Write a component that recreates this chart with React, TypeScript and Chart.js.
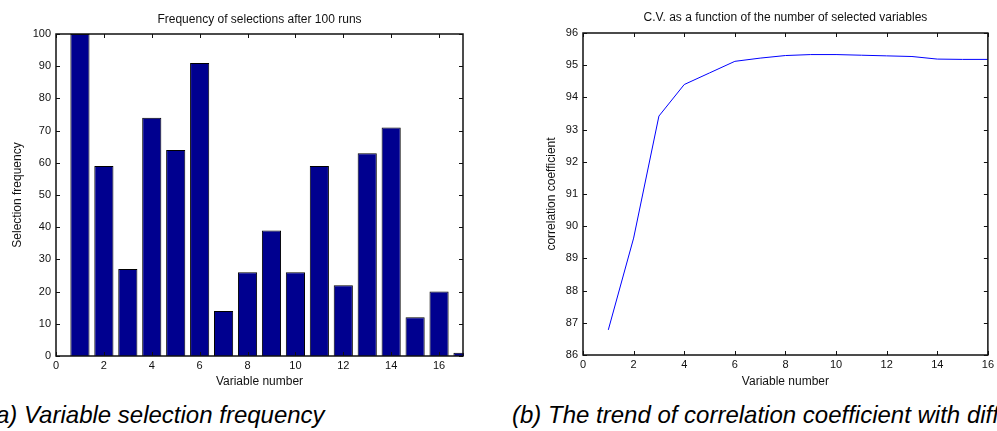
import React, { useEffect, useRef } from "react";
import { Chart, registerables } from "chart.js";

Chart.register(...registerables);

// ---- data ----
const variableNumbers = [1, 2, 3, 4, 5, 6, 7, 8, 9, 10, 11, 12, 13, 14, 15, 16, 17];
const selectionFrequency = [100, 59, 27, 74, 64, 91, 14, 26, 39, 26, 59, 22, 63, 71, 12, 20, 1];

const cvVariables = [1, 2, 3, 4, 5, 6, 7, 8, 9, 10, 11, 12, 13, 14, 15, 16];
const correlationCoef = [86.78, 89.63, 93.42, 94.4, 94.76, 95.12, 95.22, 95.3, 95.33, 95.33, 95.31, 95.29, 95.27, 95.19, 95.18, 95.18];

const titleA = "Frequency of selections after 100 runs";
const titleB = "C.V. as a function of the number of selected variables";
const xLabel = "Variable number";
const yLabelA = "Selection frequency";
const yLabelB = "correlation coefficient";
const captionA = "(a) Variable selection frequency";
const captionB = "(b) The trend of correlation coefficient with different number of variables";

const FONT = "'Liberation Sans', Arial, Helvetica, sans-serif";

const matlabBox = {
  id: "matlabBox",
  afterDatasetsDraw(chart: any) {
    const { ctx, chartArea } = chart;
    const { left, right, top, bottom } = chartArea;
    const xs = chart.scales.x;
    const ys = chart.scales.y;
    const tl = 4;
    ctx.save();
    ctx.strokeStyle = "#111";
    ctx.lineWidth = 1;
    ctx.beginPath();
    xs.ticks.forEach((t: any) => {
      const p = Math.round(xs.getPixelForValue(t.value)) + 0.5;
      ctx.moveTo(p, bottom);
      ctx.lineTo(p, bottom - tl);
      ctx.moveTo(p, top);
      ctx.lineTo(p, top + tl);
    });
    ys.ticks.forEach((t: any) => {
      const p = Math.round(ys.getPixelForValue(t.value)) + 0.5;
      ctx.moveTo(left, p);
      ctx.lineTo(left + tl, p);
      ctx.moveTo(right, p);
      ctx.lineTo(right - tl, p);
    });
    ctx.stroke();
    ctx.lineWidth = 1.5;
    ctx.strokeStyle = "#111";
    ctx.strokeRect(left, top, right - left, bottom - top);
    ctx.restore();
  },
};

function makeScales(opts: {
  xMax: number;
  yMin: number;
  yMax: number;
  yStep: number;
  yWidth: number;
  xHeight: number;
  yTitlePad: number;
  yLabel: string;
}) {
  return {
    x: {
      type: "linear" as const,
      min: 0,
      max: opts.xMax,
      offset: false,
      grid: { display: false, drawTicks: false, offset: false },
      border: { display: false },
      ticks: {
        stepSize: 2,
        includeBounds: false,
        font: { family: FONT, size: 11 },
        color: "#111",
        padding: 3,
        maxRotation: 0,
        autoSkip: false,
      },
      title: {
        display: true,
        text: xLabel,
        font: { family: FONT, size: 12 },
        color: "#111",
        padding: { top: 0, bottom: 11 },
      },
      afterFit: (s: any) => {
        s.height = opts.xHeight;
      },
    },
    y: {
      min: opts.yMin,
      max: opts.yMax,
      grid: { display: false, drawTicks: false },
      border: { display: false },
      ticks: {
        stepSize: opts.yStep,
        font: { family: FONT, size: 11 },
        color: "#111",
        padding: 5,
      },
      title: {
        display: true,
        text: opts.yLabel,
        font: { family: FONT, size: 12 },
        color: "#111",
        padding: { top: opts.yTitlePad, bottom: 0 },
      },
      afterFit: (s: any) => {
        s.width = opts.yWidth;
      },
    },
  };
}

function BarChart() {
  const ref = useRef<HTMLCanvasElement>(null);
  useEffect(() => {
    const chart = new Chart(ref.current!, {
      type: "bar",
      data: {
        datasets: [
          {
            data: variableNumbers.map((v, i) => ({ x: v, y: selectionFrequency[i] })),
            backgroundColor: "#00008F",
            borderColor: "#000",
            borderWidth: 1,
            categoryPercentage: 1,
            barPercentage: 0.8,
            clip: { left: 0, right: 1, top: 1, bottom: 0 },
          } as any,
        ],
      },
      options: {
        responsive: false,
        animation: false,
        layout: { padding: { left: 0, right: 17, top: 0, bottom: 0 } },
        plugins: {
          legend: { display: false },
          tooltip: { enabled: false },
          title: {
            display: true,
            text: titleA,
            fullSize: false,
            font: { family: FONT, size: 12, weight: "normal" },
            color: "#111",
            padding: { top: 12.5, bottom: 7.1 },
          },
        },
        scales: makeScales({
          xMax: 17,
          yMin: 0,
          yMax: 100,
          yStep: 10,
          yWidth: 56,
          xHeight: 44,
          yTitlePad: 10,
          yLabel: yLabelA,
        }) as any,
      },
      plugins: [matlabBox],
    });
    return () => chart.destroy();
  }, []);
  return (
    <canvas
      ref={ref}
      width={480}
      height={400}
      style={{ position: "absolute", left: 0, top: 0, width: 480, height: 400 }}
    />
  );
}

function LineChart() {
  const ref = useRef<HTMLCanvasElement>(null);
  useEffect(() => {
    const chart = new Chart(ref.current!, {
      type: "line",
      data: {
        datasets: [
          {
            data: cvVariables.map((v, i) => ({ x: v, y: correlationCoef[i] })),
            borderColor: "#0000FF",
            borderWidth: 1,
            pointRadius: 0,
            tension: 0,
            fill: false,
          },
        ],
      },
      options: {
        responsive: false,
        animation: false,
        layout: { padding: { left: 0, right: 4, top: 0, bottom: 0 } },
        plugins: {
          legend: { display: false },
          tooltip: { enabled: false },
          title: {
            display: true,
            text: titleB,
            fullSize: false,
            font: { family: FONT, size: 12, weight: "normal" },
            color: "#111",
            padding: { top: 10.3, bottom: 8.3 },
          },
        },
        scales: makeScales({
          xMax: 16,
          yMin: 86,
          yMax: 96,
          yStep: 1,
          yWidth: 86,
          xHeight: 45,
          yTitlePad: 47,
          yLabel: yLabelB,
        }) as any,
      },
      plugins: [matlabBox],
    });
    return () => chart.destroy();
  }, []);
  return (
    <canvas
      ref={ref}
      width={500}
      height={400}
      style={{ position: "absolute", left: 497, top: 0, width: 500, height: 400 }}
    />
  );
}

const captionStyle: React.CSSProperties = {
  position: "absolute",
  top: 403,
  fontFamily: FONT,
  fontStyle: "italic",
  fontSize: 24,
  lineHeight: "24px",
  color: "#000",
  whiteSpace: "nowrap",
};

export default function App() {
  return (
    <div
      style={{
        position: "absolute",
        left: 0,
        top: 0,
        width: 997,
        height: 431,
        overflow: "hidden",
        background: "#fff",
      }}
    >
      <BarChart />
      <LineChart />
      <div style={{ ...captionStyle, left: -12 }}>{captionA}</div>
      <div style={{ ...captionStyle, left: 512 }}>{captionB}</div>
    </div>
  );
}
